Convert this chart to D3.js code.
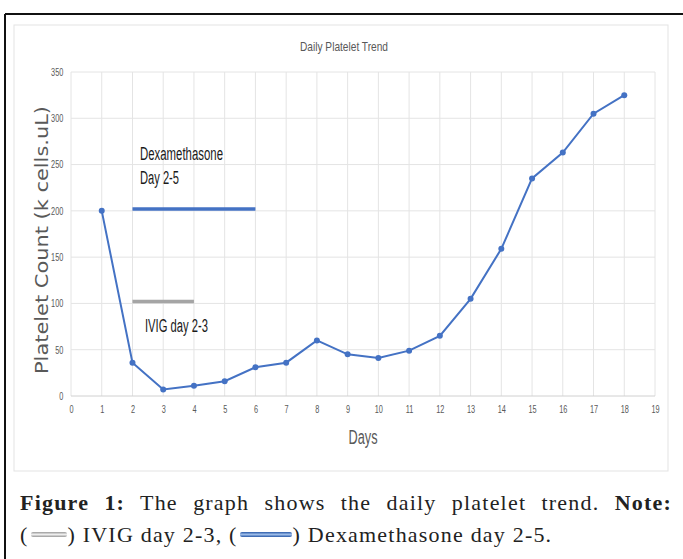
<!DOCTYPE html>
<html>
<head>
<meta charset="utf-8">
<script src="https://cdn.jsdelivr.net/npm/d3@7"></script>
<style>
  body { margin: 0; background: #fff; }
  #chart { position: relative; width: 683px; height: 559px; overflow: hidden; }
  .caption { position: absolute; left: 20px; width: 652px; font-family: "Liberation Serif", "DejaVu Serif", serif; font-size: 22px; letter-spacing: 1.2px; color: #222; white-space: nowrap; }
  .l1 { top: 490px; text-align: justify; text-align-last: justify; white-space: normal; }
  .l2 { top: 522px; }
  .sym { display: inline-block; height: 5px; vertical-align: middle; margin: 0 1px 4px 2px; border-radius: 2px; }
</style>
</head>
<body>
<div id="chart"></div>
<script>
const width = 683
const height = 559

// data
const days = [1, 2, 3, 4, 5, 6, 7, 8, 9, 10, 11, 12, 13, 14, 15, 16, 17, 18]
const platelets = [200, 36, 7, 11, 16, 31, 36, 60, 45, 41, 49, 65, 105, 159, 235, 263, 305, 325]
const xTicks = d3.range(0, 20)
const yTicks = [0, 50, 100, 150, 200, 250, 300, 350]
const dexaDays = [2, 6]
const dexaLevel = 202
const ivigDays = [2, 4]
const ivigLevel = 102

let svg = d3.select("#chart")
            .append("svg")
            .attr("width", width)
            .attr("height", height)

// page border (top + left)
svg.append("line").attr("x1", 5).attr("x2", width).attr("y1", 14).attr("y2", 14)
   .attr("stroke", "#111").attr("stroke-width", 2)
svg.append("line").attr("x1", 5).attr("x2", 5).attr("y1", 14).attr("y2", height)
   .attr("stroke", "#111").attr("stroke-width", 2)

// chart box
svg.append("rect").attr("x", 14).attr("y", 25).attr("width", 654).attr("height", 446)
   .attr("fill", "#fff").attr("stroke", "#e3e3e3")

let x = d3.scaleLinear().domain([0, 19]).range([71, 655])
let y = d3.scaleLinear().domain([0, 350]).range([396, 72])

// grid
let grid = svg.append("g")
grid.selectAll(".vg").data(xTicks).enter().append("line")
    .attr("x1", d => x(d)).attr("x2", d => x(d))
    .attr("y1", y(350)).attr("y2", y(0))
    .attr("stroke", "#e4e4e4")
grid.selectAll(".hg").data(yTicks).enter().append("line")
    .attr("x1", x(0)).attr("x2", x(19))
    .attr("y1", d => y(d)).attr("y2", d => y(d))
    .attr("stroke", d => d === 0 ? "#d0d0d0" : "#e4e4e4")

// axes (labels only), squeezed like the original image
let sans = "'Liberation Sans', Arial, sans-serif"
svg.append("g").attr("transform", "translate(0," + y(0) + ")")
    .call(d3.axisBottom(x).tickValues(xTicks).tickSize(0).tickPadding(10))
svg.append("g").attr("transform", "translate(" + x(0) + ",0)")
    .call(d3.axisLeft(y).tickValues(yTicks).tickSize(0).tickPadding(11))
svg.selectAll(".domain").remove()
svg.selectAll(".tick text")
   .attr("font-family", sans)
   .attr("font-size", 10.5)
   .attr("fill", "#595959")
   .attr("transform", "scale(0.7,1)")

function label(tx, ty, txt, size, len, color, anchor) {
  return svg.append("text").attr("x", tx).attr("y", ty)
    .attr("text-anchor", anchor || "start")
    .attr("font-family", sans).attr("font-size", size)
    .attr("fill", color)
    .attr("textLength", len).attr("lengthAdjust", "spacingAndGlyphs")
    .text(txt)
}

label(344, 51, "Daily Platelet Trend", 13, 88, "#595959", "middle")
label(363, 444, "Days", 20, 29, "#595959", "middle")

svg.append("text")
   .attr("transform", "translate(48,240) rotate(-90)")
   .attr("text-anchor", "middle")
   .attr("font-family", "'DejaVu Sans', Verdana, sans-serif").attr("font-size", 17.5)
   .attr("fill", "#595959")
   .attr("textLength", 268).attr("lengthAdjust", "spacingAndGlyphs")
   .text("Platelet Count (k cells.uL)")

// treatment bars
svg.append("line").attr("x1", x(dexaDays[0])).attr("x2", x(dexaDays[1]))
   .attr("y1", y(dexaLevel)).attr("y2", y(dexaLevel))
   .attr("stroke", "#4472C4").attr("stroke-width", 3.5)
svg.append("line").attr("x1", x(ivigDays[0])).attr("x2", x(ivigDays[1]))
   .attr("y1", y(ivigLevel)).attr("y2", y(ivigLevel))
   .attr("stroke", "#a5a5a5").attr("stroke-width", 3.5)

label(140, 160, "Dexamethasone", 18, 83, "#1a1a1a")
label(140, 184, "Day 2-5", 18, 39, "#1a1a1a")
label(145, 332, "IVIG day 2-3", 18, 63, "#1a1a1a")

// platelet line
let line = d3.line().x(d => x(d[0])).y(d => y(d[1]))
let pts = days.map((d, i) => [d, platelets[i]])
svg.append("path").datum(pts).attr("d", line)
   .attr("fill", "none").attr("stroke", "#4472C4").attr("stroke-width", 2)
svg.selectAll(".pt").data(pts).enter().append("circle")
   .attr("cx", d => x(d[0])).attr("cy", d => y(d[1])).attr("r", 3)
   .attr("fill", "#4472C4")

// caption
let chart = d3.select("#chart")
chart.append("div").attr("class", "caption l1")
     .html("<b>Figure 1:</b> The graph shows the daily platelet trend. <b>Note:</b>")
chart.append("div").attr("class", "caption l2")
     .html("(<span class='sym' style='width:36px;background:linear-gradient(#999,#eee,#999)'></span>) IVIG day 2-3, (<span class='sym' style='width:52px;background:linear-gradient(#2a5aa8,#9bbbe8,#2a5aa8)'></span>) Dexamethasone day 2-5.")
</script>
</body>
</html>
